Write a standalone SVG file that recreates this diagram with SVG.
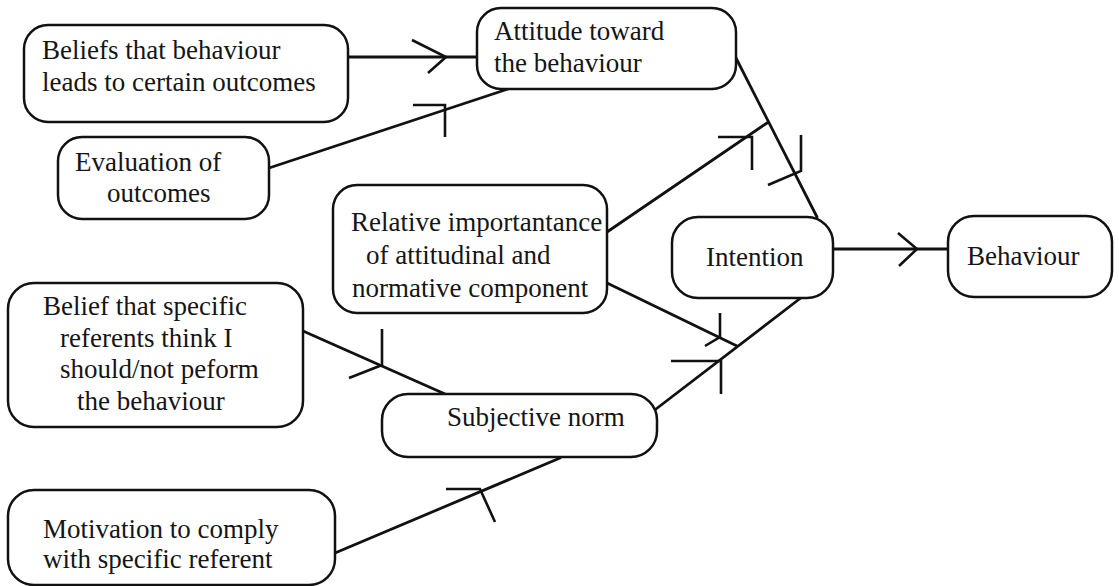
<svg xmlns="http://www.w3.org/2000/svg" width="1119" height="586" viewBox="0 0 1119 586">
  <style>
    .box { fill: #ffffff; stroke: #111111; stroke-width: 2.5; }
    .lbl { font-family: "Liberation Serif", "Times New Roman", serif; font-size: 27px; fill: #151515; }
    .link { fill: none; stroke: #111111; stroke-width: 2.8; stroke-linecap: round; }
    .head { fill: none; stroke: #111111; stroke-width: 2.6; stroke-linejoin: miter; stroke-linecap: butt; }
  </style>
  <rect width="1119" height="586" fill="#ffffff"/>

  <!-- connectors -->
  <g id="connectors">
    <line class="link" x1="348" y1="57" x2="477" y2="57"/>
    <line class="link" x1="269" y1="168" x2="508" y2="89"/>
    <line class="link" x1="736" y1="58" x2="817" y2="217"/>
    <line class="link" x1="607" y1="232" x2="767" y2="123"/>
    <line class="link" x1="607" y1="283" x2="737" y2="346"/>
    <line class="link" x1="802" y1="297" x2="656" y2="409"/>
    <line class="link" x1="303" y1="331" x2="445" y2="394"/>
    <line class="link" x1="335" y1="553" x2="560" y2="458"/>
    <line class="link" x1="833" y1="249" x2="948" y2="249"/>

    <!-- arrowheads -->
    <path class="head" d="M412,40 L446,57 L428,73"/>
    <path class="head" d="M413,105 H445 V137"/>
    <path class="head" d="M718,137 H752 V170"/>
    <path class="head" d="M801,135 V171 L768,185"/>
    <path class="head" d="M720,313 V337 L705,346"/>
    <path class="head" d="M671,361 H721 V394"/>
    <path class="head" d="M382,329 V365 L349,378"/>
    <path class="head" d="M446,489 H480 L495,522"/>
    <path class="head" d="M898,233 L917,249 L899,266"/>
  </g>

  <g id="beliefs-outcomes">
    <rect class="box" x="24" y="25" width="324" height="97" rx="24"/>
    <text class="lbl" x="42" y="59">Beliefs that behaviour</text>
    <text class="lbl" x="42" y="91">leads to certain outcomes</text>
  </g>

  <g id="attitude">
    <rect class="box" x="477" y="8" width="259" height="81" rx="24"/>
    <text class="lbl" x="494" y="40">Attitude toward</text>
    <text class="lbl" x="494" y="72">the behaviour</text>
  </g>

  <g id="evaluation">
    <rect class="box" x="58" y="137" width="211" height="82" rx="24"/>
    <text class="lbl" x="75" y="171">Evaluation of</text>
    <text class="lbl" x="107" y="202">outcomes</text>
  </g>

  <g id="relative-importance">
    <rect class="box" x="333" y="185" width="274" height="128" rx="24"/>
    <text class="lbl" x="351" y="231">Relative importantance</text>
    <text class="lbl" x="366" y="264">of attitudinal and</text>
    <text class="lbl" x="352" y="297">normative component</text>
  </g>

  <g id="intention">
    <rect class="box" x="672" y="217" width="161" height="81" rx="26"/>
    <text class="lbl" x="706" y="266">Intention</text>
  </g>

  <g id="behaviour">
    <rect class="box" x="948" y="216" width="164" height="81" rx="26"/>
    <text class="lbl" x="967" y="265">Behaviour</text>
  </g>

  <g id="referent-beliefs">
    <rect class="box" x="8" y="283" width="295" height="144" rx="26"/>
    <text class="lbl" x="43" y="315">Belief that specific</text>
    <text class="lbl" x="60" y="347">referents think I</text>
    <text class="lbl" x="60" y="378">should/not peform</text>
    <text class="lbl" x="77" y="410">the behaviour</text>
  </g>

  <g id="subjective-norm">
    <rect class="box" x="382" y="394" width="275" height="63" rx="26"/>
    <text class="lbl" x="447" y="426">Subjective norm</text>
  </g>

  <g id="motivation">
    <rect class="box" x="8" y="490" width="327" height="95" rx="26"/>
    <text class="lbl" x="43" y="538">Motivation to comply</text>
    <text class="lbl" x="43" y="568">with specific referent</text>
  </g>
</svg>
